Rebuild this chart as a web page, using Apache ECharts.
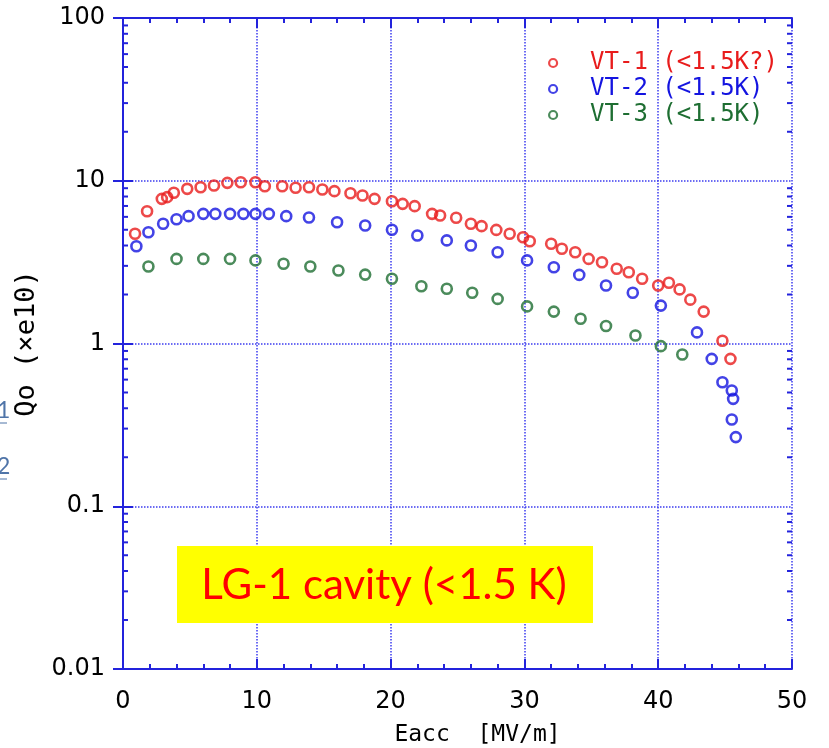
<!DOCTYPE html>
<html>
<head>
<meta charset="utf-8">
<script src="https://cdn.jsdelivr.net/npm/echarts@6/dist/echarts.min.js"></script>
<style>html,body{margin:0;padding:0;background:#fff;}#c{width:829px;height:748px;}</style>
</head>
<body>
<div id="c"></div>
<script>
// ---- data ----
const seriesNames = ['VT-1 (<1.5K?)', 'VT-2 (<1.5K)', 'VT-3 (<1.5K)'];
const vt1E = [0.9, 1.8, 2.9, 3.3, 3.8, 4.8, 5.8, 6.8, 7.8, 8.8, 9.9, 10.6, 11.9, 12.9, 13.9, 14.9, 15.8, 17.0, 17.9, 18.8, 20.1, 20.9, 21.8, 23.1, 23.7, 24.9, 26.0, 26.8, 27.9, 28.9, 29.9, 30.4, 32.0, 32.8, 33.8, 34.8, 35.8, 36.9, 37.8, 38.8, 40.0, 40.8, 41.6, 42.4, 43.4, 44.8, 45.4];
const vt1Q = [4.72, 6.5, 7.74, 7.93, 8.43, 8.92, 9.13, 9.35, 9.71, 9.80, 9.80, 9.26, 9.26, 9.05, 9.13, 8.84, 8.63, 8.38, 8.11, 7.74, 7.49, 7.21, 6.98, 6.26, 6.12, 5.92, 5.44, 5.26, 4.99, 4.72, 4.5, 4.25, 4.1, 3.82, 3.64, 3.31, 3.16, 2.88, 2.74, 2.50, 2.27, 2.36, 2.15, 1.86, 1.57, 1.04, 0.805];
const vt2E = [1.0, 1.9, 3.0, 4.0, 4.9, 6.0, 6.9, 8.0, 9.0, 9.9, 10.9, 12.2, 13.9, 16.0, 18.1, 20.1, 22.0, 24.2, 26.0, 28.0, 30.2, 32.2, 34.1, 36.1, 38.1, 40.2, 42.9, 44.0, 44.8, 45.5, 45.6, 45.5, 45.8];
const vt2Q = [3.96, 4.83, 5.44, 5.8, 6.06, 6.26, 6.26, 6.26, 6.26, 6.26, 6.26, 6.06, 5.95, 5.56, 5.31, 5.0, 4.61, 4.3, 4.0, 3.64, 3.24, 2.94, 2.64, 2.27, 2.05, 1.71, 1.17, 0.805, 0.578, 0.514, 0.457, 0.341, 0.266];
const vt3E = [1.9, 4.0, 6.0, 8.0, 9.9, 12.0, 14.0, 16.1, 18.1, 20.1, 22.3, 24.2, 26.1, 28.0, 30.2, 32.2, 34.2, 36.1, 38.3, 40.2, 41.8];
const vt3Q = [2.97, 3.31, 3.31, 3.31, 3.24, 3.09, 2.97, 2.81, 2.65, 2.5, 2.25, 2.17, 2.05, 1.88, 1.69, 1.57, 1.42, 1.28, 1.12, 0.963, 0.856];
const xTickLabels = ['0', '10', '20', '30', '40', '50'];
const yTickLabels = ['0.01', '0.1', '1', '10', '100'];
const decades = [0.01, 0.1, 1, 10];
const minorMultipliers = [2, 3, 4, 5, 6, 7, 8, 9];
// --------------------------------------

const colors = ['#e81c1c', '#1414e0', '#1e6e32'];
const frame = '#2323dc';
const gridCol = '#3c3cf0';
const zip = (a, b) => a.map((v, i) => [v, b[i]]);
const minorVals = [];
decades.forEach(d => minorMultipliers.forEach(m => minorVals.push([0, +(d * m).toPrecision(3)])));

const chart = echarts.init(document.getElementById('c'), null, {renderer: 'canvas'});
const labelFont = {fontFamily: 'DejaVu Sans', fontSize: 24, color: '#000'};

const scatterSeries = [[vt1E, vt1Q], [vt2E, vt2Q], [vt3E, vt3Q]].map((p, i) => ({
  name: seriesNames[i],
  type: 'scatter',
  symbol: 'circle',
  symbolSize: 10,
  itemStyle: {color: 'rgba(255,255,255,0)', borderColor: colors[i], borderWidth: 2.6},
  emphasis: {disabled: true},
  data: zip(p[0], p[1]),
  z: 5
}));

const option = {
  animation: false,
  backgroundColor: '#fff',
  grid: {left: 123, right: 37, top: 18, bottom: 79, outerBoundsMode: 'none', containLabel: false},
  legend: {
    orient: 'vertical',
    left: 543,
    top: 46,
    itemWidth: 8,
    itemHeight: 8,
    itemGap: 2,
    icon: 'circle',
    itemStyle: {borderWidth: 2.2},
    textStyle: {fontFamily: 'DejaVu Sans Mono', fontSize: 24, lineHeight: 24, padding: [0, 0, 0, 28]},
    data: seriesNames.map((n, i) => ({name: n, textStyle: {color: colors[i]}})),
    selectedMode: false
  },
  xAxis: [
    {
      type: 'value', position: 'bottom', min: 0, max: 50, interval: 10,
      axisLine: {show: true, lineStyle: {color: frame, width: 2}},
      axisTick: {show: true, inside: true, length: 10, lineStyle: {color: frame, width: 2}},
      minorTick: {show: true, splitNumber: 5, length: 5, lineStyle: {color: frame, width: 2}},
      splitLine: {show: true, lineStyle: {color: gridCol, width: 1.5, type: [1.5, 1.5]}},
      axisLabel: Object.assign({margin: 21, formatter: (v) => xTickLabels[Math.round(v / 10)]}, labelFont),
      name: 'Eacc  [MV/m]', nameLocation: 'middle', nameGap: 55,
      nameTextStyle: {fontFamily: 'DejaVu Sans Mono', fontSize: 23, color: '#000', padding: [0, 0, 0, 40]}
    },
    {
      type: 'value', position: 'top', min: 0, max: 50, interval: 10,
      axisLine: {show: true, lineStyle: {color: frame, width: 2}},
      axisTick: {show: true, inside: true, length: 10, lineStyle: {color: frame, width: 2}},
      minorTick: {show: true, splitNumber: 5, length: 5, lineStyle: {color: frame, width: 2}},
      splitLine: {show: false}, axisLabel: {show: false}
    }
  ],
  yAxis: [
    {
      type: 'log', logBase: 10, position: 'left', min: 0.01, max: 100, interval: 1,
      axisLine: {show: true, lineStyle: {color: frame, width: 2}},
      axisTick: {show: true, inside: true, length: 10, lineStyle: {color: frame, width: 2}},
      minorTick: {show: false},
      splitLine: {show: true, lineStyle: {color: gridCol, width: 1.5, type: [1.5, 1.5]}},
      axisLabel: Object.assign({margin: 18, formatter: (v) => {
        const idx = Math.round(Math.log10(v)) + 2; return yTickLabels[idx];
      }}, labelFont),
      name: 'Qo (×e10)', nameLocation: 'middle', nameGap: 78, nameRotate: 90,
      nameTextStyle: {fontFamily: 'DejaVu Sans Mono', fontSize: 27, color: '#000'}
    },
    {
      type: 'log', logBase: 10, position: 'right', min: 0.01, max: 100, interval: 1,
      axisLine: {show: true, lineStyle: {color: frame, width: 2}},
      axisTick: {show: true, inside: true, length: 10, lineStyle: {color: frame, width: 2}},
      splitLine: {show: false}, axisLabel: {show: false}
    }
  ],
  series: scatterSeries.concat([{
    name: 'minorTicks',
    type: 'custom',
    silent: true,
    clip: false,
    z: 6,
    data: minorVals,
    renderItem: (params, api) => {
      const v = api.value(1);
      const pL = api.coord([0, v]);
      const pR = api.coord([50, v]);
      return {
        type: 'group',
        children: [
          {type: 'line', shape: {x1: pL[0], y1: pL[1], x2: pL[0] + 5, y2: pL[1]}, style: {stroke: frame, lineWidth: 2}},
          {type: 'line', shape: {x1: pR[0] - 5, y1: pR[1], x2: pR[0], y2: pR[1]}, style: {stroke: frame, lineWidth: 2}}
        ]
      };
    }
  }]),
  graphic: [
    {type: 'rect', left: 177, top: 546, shape: {width: 416, height: 77}, style: {fill: '#ffff00'}, z: 10},
    {type: 'text', x: 384, y: 585, z: 11, style: {text: 'LG-1 cavity (<1.5 K)', fill: '#ff0000', font: '42px Lato', align: 'center', verticalAlign: 'middle'}},
    {type: 'text', x: -3, y: 399, z: 11, style: {text: '1', fill: '#4f74a8', font: '23px Lato'}},
    {type: 'line', shape: {x1: 0, y1: 423, x2: 7, y2: 423}, style: {stroke: '#4f74a8', lineWidth: 1}, z: 11},
    {type: 'text', x: -3, y: 455, z: 11, style: {text: '2', fill: '#4f74a8', font: '23px Lato'}},
    {type: 'line', shape: {x1: 0, y1: 479, x2: 7, y2: 479}, style: {stroke: '#4f74a8', lineWidth: 1}, z: 11}
  ]
};
chart.setOption(option);
</script>
</body>
</html>
